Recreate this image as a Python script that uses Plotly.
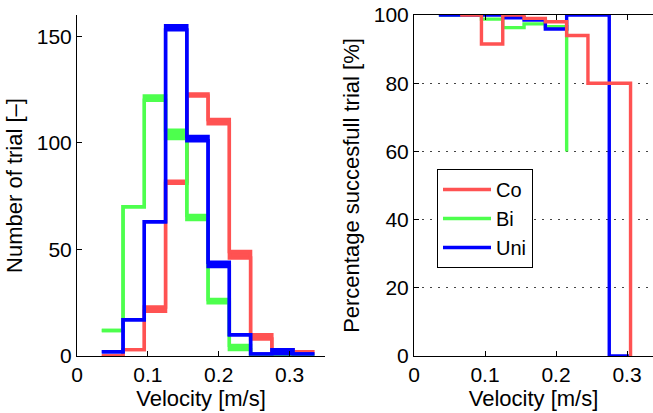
import plotly.graph_objects as go

# ---------------- data ----------------
edges = [0.035, 0.065, 0.095, 0.125, 0.155, 0.185, 0.215, 0.245, 0.275, 0.305, 0.335]

# histogram counts (lower / upper of the drawn band)
co_cnt_lo = [0, 3, 21, 81, 122, 109, 46, 8, 2, 2]
co_cnt_hi = [0, 3, 23, 82, 123, 111, 49, 10, 3, 2]
bi_cnt_lo = [12, 70, 120, 102, 64, 25, 3, 0, 0, 0]
bi_cnt_hi = [12, 70, 122, 106, 66, 26.5, 5, 0, 0, 0]
uni_cnt_lo = [2, 17, 63, 153, 101, 42, 10, 1, 1, 1]
uni_cnt_hi = [2, 17, 63, 155, 103, 44, 10, 1, 3, 1]

# percentage successful trials (step values starting at given edges)
co_pct_x = edges[1:10]
co_pct = [100, 91.5, 100, 99, 98, 94, 80, 80, 0]
bi_pct_x = edges[0:7]
bi_pct = [100, 100, 98.8, 96.3, 97.4, 96.6, 60]
uni_pct_x = edges[0:10]
uni_pct = [100, 100, 100, 99.2, 98.5, 95.9, 100, 100, 0, 0]

names = ["Co", "Bi", "Uni"]
colors = ["#FF5252", "#4DFF4D", "#0000FF"]

FONT = "Liberation Sans, Arial, sans-serif"
LW = 3.4

fig = go.Figure()

# ---------------- left: histograms ----------------
for name, col, lo, hi in [
    ("Co", colors[0], co_cnt_lo, co_cnt_hi),
    ("Bi", colors[1], bi_cnt_lo, bi_cnt_hi),
    ("Uni", colors[2], uni_cnt_lo, uni_cnt_hi),
]:
    fig.add_trace(go.Scatter(
        x=edges, y=lo + [lo[-1]], mode="lines", line=dict(color=col, width=LW, shape="hv"),
        xaxis="x", yaxis="y", showlegend=False, hoverinfo="skip"))
    fig.add_trace(go.Scatter(
        x=edges, y=hi + [hi[-1]], mode="lines", line=dict(color=col, width=LW, shape="hv"),
        fill="tonexty", fillcolor=col,
        xaxis="x", yaxis="y", showlegend=False, hoverinfo="skip"))

# ---------------- right: percentages ----------------
for name, col, xs, ys, rank in [
    ("Bi", colors[1], bi_pct_x, bi_pct, 2),
    ("Uni", colors[2], uni_pct_x, uni_pct, 3),
    ("Co", colors[0], co_pct_x, co_pct, 1),
]:
    fig.add_trace(go.Scatter(
        x=xs, y=ys, mode="lines", name=name, legendrank=rank,
        line=dict(color=col, width=LW, shape="hv"),
        xaxis="x2", yaxis="y2", showlegend=True))

W, H = 653, 413
ybot = (H - 356) / H
ytop = (H - 15) / H

axis_common = dict(
    showline=True, linecolor="black", linewidth=1,
    ticks="inside", ticklen=5, tickwidth=1, tickcolor="black",
    tickfont=dict(family=FONT, size=21, color="black"),
    zeroline=False, showgrid=False, automargin=False,
)
TF = dict(family=FONT, size=22, color="black")

fig.update_layout(
    template="none",
    width=W, height=H,
    margin=dict(l=0, r=0, t=0, b=0),
    paper_bgcolor="white", plot_bgcolor="white",
    font=dict(family=FONT, size=20, color="black"),
    xaxis=dict(axis_common, domain=[77 / W, 325 / W], range=[0, 0.35],
               tickvals=[0, 0.1, 0.2, 0.3], ticktext=["0", "0.1", "0.2", "0.3"],
               title=dict(text="Velocity [m/s]", font=TF, standoff=4),
               anchor="y"),
    yaxis=dict(axis_common, domain=[ybot, ytop], range=[0, 160],
               tickvals=[0, 50, 100, 150],
               title=dict(text="Number of trial [\u2013]", font=TF, standoff=8),
               anchor="x"),
    xaxis2=dict(axis_common, domain=[414 / W, 1.0], range=[0, (W - 414) / 710],
                tickvals=[0, 0.1, 0.2, 0.3], ticktext=["0", "0.1", "0.2", "0.3"],
                mirror="ticks",
                title=dict(text="Velocity [m/s]", font=TF, standoff=4),
                anchor="y2"),
    yaxis2=dict(axis_common, domain=[ybot, ytop], range=[0, 100],
                tickvals=[0, 20, 40, 60, 80, 100],
                showgrid=True, gridcolor="#444444", gridwidth=1, griddash="2px,6px",
                title=dict(text="Percentage succesfull trial [%]", font=TF, standoff=8),
                anchor="x2"),
    legend=dict(x=437 / W, y=(H - 169) / H, xanchor="left", yanchor="top",
                traceorder="normal",
                bgcolor="white", bordercolor="black", borderwidth=1,
                font=dict(family=FONT, size=20, color="black"),
                itemwidth=48, tracegroupgap=0),
)

fig.write_html("out.html")
